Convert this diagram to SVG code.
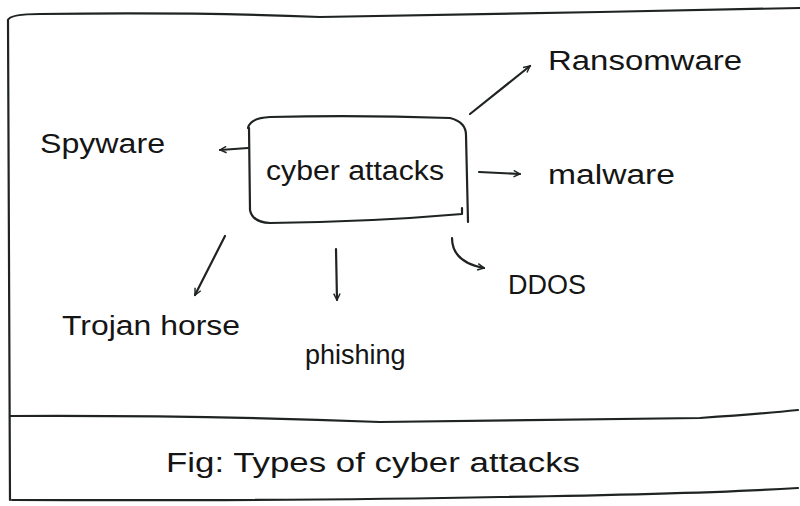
<svg xmlns="http://www.w3.org/2000/svg" width="800" height="506" viewBox="0 0 800 506">
<style>
.ln{fill:none;stroke:#1f2420;stroke-width:2.2;stroke-linecap:round;stroke-linejoin:round}
.t{font-family:"Liberation Sans",Arial,sans-serif;fill:#151515;font-size:27px}
</style>
<defs>
<marker id="ah" viewBox="0 0 10 10" refX="9" refY="5" markerWidth="8" markerHeight="8" orient="auto-start-reverse" markerUnits="userSpaceOnUse">
<path d="M1,1 L9,5 L1,9" fill="none" stroke="#1f2420" stroke-width="1.8"/>
</marker>
</defs>
<rect width="800" height="506" fill="#ffffff"/>
<g id="frame">
<path class="ln" d="M8,20 Q10,14 40,14 Q200,12 320,17 Q480,14 600,12 Q720,10 800,8"/>
<path class="ln" d="M8,20 L10,500"/>
<path class="ln" d="M10,416 Q200,415 380,422 Q560,420 700,418 Q760,414 798,410"/>
<path class="ln" d="M12,500 Q300,501 500,497 Q700,494 798,488"/>
</g>
<g id="cyber-attacks">
<path class="ln" d="M248,128 Q250,118 270,117 Q360,115 450,118 Q466,122 466,135 L468,222"/>
<path class="ln" d="M249,128 L250,210 Q252,222 270,223 Q370,222 462,214 L462,208"/>
<text class="t" x="266" y="180" textLength="178" lengthAdjust="spacingAndGlyphs">cyber attacks</text>
</g>
<g id="spyware"><text class="t" x="40" y="153" textLength="125" lengthAdjust="spacingAndGlyphs">Spyware</text></g>
<g id="ransomware"><text class="t" x="548" y="70" textLength="194" lengthAdjust="spacingAndGlyphs">Ransomware</text></g>
<g id="malware"><text class="t" x="548" y="184" textLength="127" lengthAdjust="spacingAndGlyphs">malware</text></g>
<g id="ddos"><text class="t" x="508" y="294" font-size="26">DDOS</text></g>
<g id="trojan"><text class="t" x="62" y="335" textLength="178" lengthAdjust="spacingAndGlyphs">Trojan horse</text></g>
<g id="phishing"><text class="t" x="305" y="364">phishing</text></g>
<g id="caption"><text class="t" x="166" y="472" textLength="414" lengthAdjust="spacingAndGlyphs">Fig: Types of cyber attacks</text></g>
<g id="connectors">
<path class="ln" d="M248,148 L220,150" marker-end="url(#ah)"/>
<path class="ln" d="M470,114 L530,66" marker-end="url(#ah)"/>
<path class="ln" d="M479,172 L520,174" marker-end="url(#ah)"/>
<path class="ln" d="M452,238 Q452,262 484,268" marker-end="url(#ah)"/>
<path class="ln" d="M225,236 L195,295" marker-end="url(#ah)"/>
<path class="ln" d="M336,249 L337,300" marker-end="url(#ah)"/>
</g>
</svg>
